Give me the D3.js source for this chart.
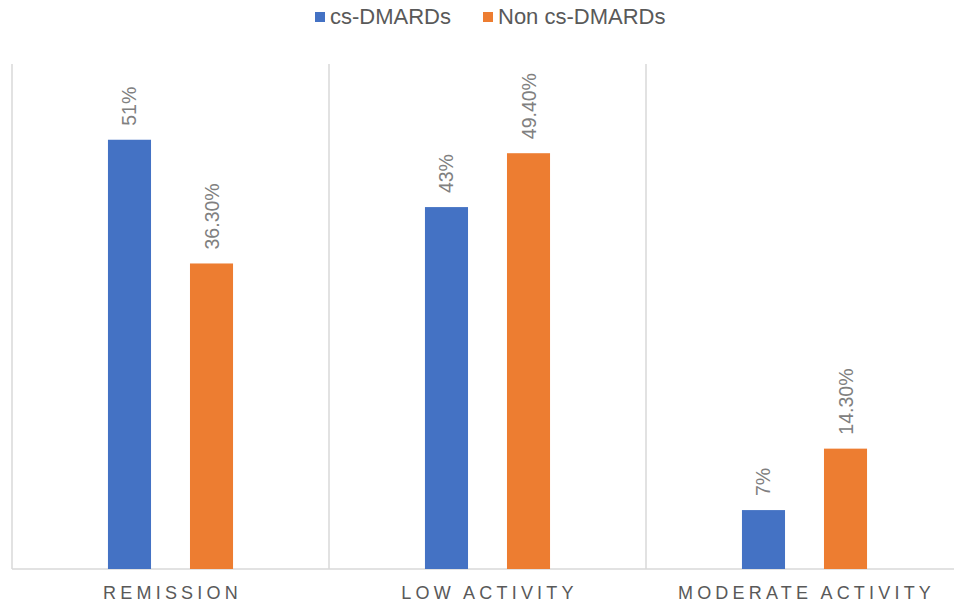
<!DOCTYPE html>
<html>
<head>
<meta charset="utf-8">
<script src="https://cdn.jsdelivr.net/npm/d3@7"></script>
<style>
  body { margin: 0; background: #fff; }
  text { font-family: "Liberation Sans", Arial, sans-serif; }
</style>
</head>
<body>
<div id="chart-area"></div>
<script>
// chart data
var categories = ["REMISSION", "LOW ACTIVITY", "MODERATE ACTIVITY"];
var seriesNames = ["cs-DMARDs", "Non cs-DMARDs"];
var csValues = [51, 43, 7];
var nonCsValues = [36.3, 49.4, 14.3];
var valueLabels = [["51%", "43%", "7%"], ["36.30%", "49.40%", "14.30%"]];
var colors = ["#4472C4", "#ED7D31"];

var width = 954, height = 604;
var margin = {left: 12, right: -9, top: 64, bottom: 35};

var svg = d3.select("#chart-area").append("svg")
    .attr("width", width)
    .attr("height", height);

// x scale per category, inner scale per series
var x = d3.scaleBand()
    .domain(categories)
    .range([margin.left, width - margin.right])
    .padding(0);

var xInner = d3.scaleBand()
    .domain(seriesNames)
    .range([0, x.bandwidth()])
    .paddingInner(0.475)
    .paddingOuter(1.17);

var y = d3.scaleLinear()
    .domain([0, 60])
    .range([height - margin.bottom, margin.top]);

// vertical separators between categories
var seps = [margin.left].concat(categories.map(function(c) { return x(c) + x.bandwidth(); }));
svg.selectAll("line.sep")
    .data(seps)
    .enter()
    .append("line")
    .attr("class", "sep")
    .attr("x1", function(d) { return d; })
    .attr("x2", function(d) { return d; })
    .attr("y1", y(60))
    .attr("y2", y(0))
    .attr("stroke", "#d9d9d9")
    .attr("stroke-width", 1.5);

// baseline
svg.append("line")
    .attr("x1", margin.left)
    .attr("x2", width)
    .attr("y1", y(0))
    .attr("y2", y(0))
    .attr("stroke", "#d9d9d9")
    .attr("stroke-width", 1.5);

// build rows for bars
var rows = [];
categories.forEach(function(c, i) {
    rows.push({cat: c, s: 0, v: csValues[i], label: valueLabels[0][i]});
    rows.push({cat: c, s: 1, v: nonCsValues[i], label: valueLabels[1][i]});
});

svg.selectAll("rect.bar")
    .data(rows)
    .enter()
    .append("rect")
    .attr("class", "bar")
    .attr("x", function(d) { return x(d.cat) + xInner(seriesNames[d.s]); })
    .attr("y", function(d) { return y(d.v); })
    .attr("width", xInner.bandwidth())
    .attr("height", function(d) { return y(0) - y(d.v); })
    .attr("fill", function(d) { return colors[d.s]; });

// rotated value labels
svg.selectAll("text.val")
    .data(rows)
    .enter()
    .append("text")
    .attr("class", "val")
    .attr("transform", function(d) {
        var cx = x(d.cat) + xInner(seriesNames[d.s]) + xInner.bandwidth() / 2 + 7;
        return "translate(" + cx + "," + (y(d.v) - 14) + ") rotate(-90)";
    })
    .attr("text-anchor", "start")
    .attr("font-size", 19.5)
    .attr("fill", "#808080")
    .text(function(d) { return d.label; });

// category labels
svg.selectAll("text.cat")
    .data(categories)
    .enter()
    .append("text")
    .attr("class", "cat")
    .attr("x", function(d) { return x(d) + x.bandwidth() / 2 + 2; })
    .attr("y", 599)
    .attr("text-anchor", "middle")
    .attr("font-size", 18)
    .attr("letter-spacing", "4.2px")
    .attr("fill", "#595959")
    .text(function(d) { return d; });

// legend
var legendX = [315, 483];
var legend = svg.selectAll("g.legend")
    .data(seriesNames)
    .enter()
    .append("g")
    .attr("class", "legend")
    .attr("transform", function(d, i) { return "translate(" + legendX[i] + ",0)"; });

legend.append("rect")
    .attr("x", 0)
    .attr("y", 12)
    .attr("width", 10)
    .attr("height", 10)
    .attr("fill", function(d, i) { return colors[i]; });

legend.append("text")
    .attr("x", 15)
    .attr("y", 24)
    .attr("font-size", 22)
    .attr("fill", "#595959")
    .text(function(d) { return d; });
</script>
</body>
</html>
